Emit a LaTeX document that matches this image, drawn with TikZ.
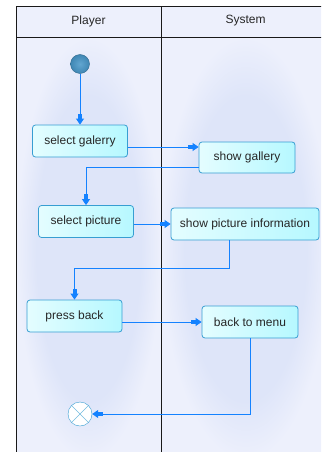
\documentclass[tikz,border=0pt]{standalone}
\usepackage{fontspec}
\setmainfont{Liberation Sans}
\usetikzlibrary{arrows.meta}

\definecolor{flowblue}{RGB}{20,130,255}
\definecolor{boxedge}{RGB}{55,158,210}
\definecolor{boxleft}{RGB}{228,253,255}
\definecolor{boxright}{RGB}{182,248,255}
\definecolor{lanebg}{RGB}{237,240,252}
\definecolor{laneglow}{RGB}{222,229,249}
\definecolor{startball}{RGB}{70,150,200}

\pgfdeclareradialshading{laneglow}{\pgfpoint{0bp}{0bp}}{%
    color(0bp)=(laneglow); color(18bp)=(laneglow);
    color(25bp)=(lanebg); color(50bp)=(lanebg)}

\begin{document}
\begin{tikzpicture}[x=1pt, y=-1pt]
    \tikzset{activity/.style={draw=boxedge, line width=0.8pt,
            rounded corners=3pt,
            left color=boxleft, right color=boxright,
            minimum width=95pt, minimum height=32pt, inner sep=2pt,
            font=\fontsize{12}{14}\selectfont, text=black!85},
        initialnode/.style={circle, draw=startball!70!black,
            inner color=startball!85!white, outer color=startball!90!black,
            minimum size=19pt, inner sep=0pt},
        finalnode/.style={circle, draw=boxedge, fill=white,
            minimum size=24pt, inner sep=0pt,
            path picture={\draw[boxedge!70]
                (path picture bounding box.north west) --
                (path picture bounding box.south east)
                (path picture bounding box.north east) --
                (path picture bounding box.south west);}},
        flow/.style={draw=flowblue, line width=0.9pt,
            -{Rectangle[length=5pt, width=4pt, sep=0pt]
              Triangle[length=6pt, width=8pt]}}
    }
    \clip (0,0) rectangle (321,452);
    \fill[white] (0,0) rectangle (321,452);
    % swimlanes
    \foreach \lx/\rx/\lname/\ltext in
        {16/161/player/Player, 161/330/system/System} {
        \fill[lanebg] (\lx,6) rectangle (\rx,37);
        \shade[shading=laneglow] (\lx,37) rectangle (\rx,460);
        \draw[black!90] (\lx,6) rectangle (\rx,460);
        \draw[black!90] (\lx,37) -- (\rx,37);
        \node[font=\fontsize{12}{14}\selectfont, text=black!85]
            (\lname) at ({(\lx+\rx)/2},21) {\ltext};
    }
    % actions
    \node [initialnode](start) at (80,64) {};
    \node [activity](sg) at (80,141) {select galerry};
    \node [activity, minimum width=96pt, minimum height=31pt](shg)
        at (247,157.5) {show gallery};
    \node [activity](sp) at (86,221.5) {select picture};
    \node [activity, minimum width=148pt](spi)
        at (245,224) {show picture information};
    \node [activity](pb) at (74.5,316) {press back};
    \node [activity, minimum width=96pt](btm) at (250,322) {back to menu};
    \node [finalnode](final) at (80,414) {};
    % flows
    \draw[flow] (start) -- (sg);
    \draw[flow] (sg.east |- 0,147) -- (shg.west |- 0,147);
    \draw[flow] (shg.west |- 0,167) -| (sp.north);
    \draw[flow] (sp.east |- spi.west) -- (spi.west);
    \draw[flow] (spi.south -| 229,0) -- (229,268) -| (pb.north);
    \draw[flow] (pb.east |- btm.west) -- (btm.west);
    \draw[flow] (btm.south) |- (final.east);
\end{tikzpicture}
\end{document}
